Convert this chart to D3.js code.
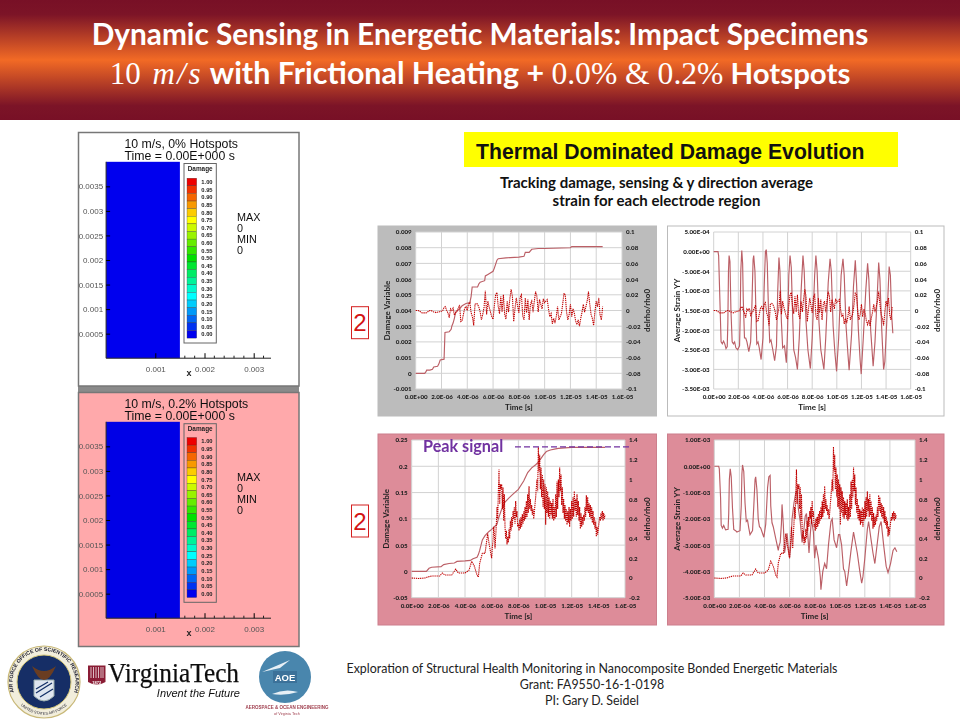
<!DOCTYPE html>
<html><head><meta charset="utf-8">
<script src="https://cdn.jsdelivr.net/npm/d3@7/dist/d3.min.js"></script>
<style>html,body{margin:0;padding:0;background:#fff}svg{display:block}</style>
</head><body><svg id="c" width="960" height="720"></svg>
<script>
// ---------- DATA ----------
const timeTicks=[0,2,4,6,8,10,12,14,16];
const timeLabels=["0.0E+00","2.0E-06","4.0E-06","6.0E-06","8.0E-06","1.0E-05","1.2E-05","1.4E-05","1.6E-05"];
const damageTopTicks=[-0.001,0,0.001,0.002,0.003,0.004,0.005,0.006,0.007,0.008,0.009];
const damageTopLabels=["-0.001","0","0.001","0.002","0.003","0.004","0.005","0.006","0.007","0.008","0.009"];
const strainTopTicks=[-3.5,-3,-2.5,-2,-1.5,-1,-0.5,0,0.5];
const strainTopLabels=["-3.50E-03","-3.00E-03","-2.50E-03","-2.00E-03","-1.50E-03","-1.00E-03","-5.00E-04","0.00E+00","5.00E-04"];
const rhoTopTicks=[-0.1,-0.08,-0.06,-0.04,-0.02,0,0.02,0.04,0.06,0.08,0.1];
const rhoTopLabels=["-0.1","-0.08","-0.06","-0.04","-0.02","0","0.02","0.04","0.06","0.08","0.1"];
const damageBotTicks=[-0.05,0,0.05,0.1,0.15,0.2,0.25];
const damageBotLabels=["-0.05","0","0.05","0.1","0.15","0.2","0.25"];
const strainBotTicks=[-5,-4,-3,-2,-1,0,1];
const strainBotLabels=["-5.00E-03","-4.00E-03","-3.00E-03","-2.00E-03","-1.00E-03","0.00E+00","1.00E-03"];
const rhoBotTicks=[-0.2,0,0.2,0.4,0.6,0.8,1,1.2,1.4];
const rhoBotLabels=["-0.2","0","0.2","0.4","0.6","0.8","1","1.2","1.4"];

// time in microseconds, damage variable
const damageTop=[[0,0],[0.7,0],[0.8,0.0001],[0.85,0.0002],[1.1,0.0002],[1.3,0.00025],[1.4,0.0004],[1.7,0.00045],[1.8,0.0006],[1.9,0.00085],[2.2,0.0009],[2.27,0.0026],[2.6,0.00265],[2.75,0.0028],[2.8,0.003],[2.9,0.0032],[3.0,0.0035],[3.05,0.0037],[3.1,0.0039],[3.4,0.0041],[3.6,0.0043],[3.9,0.00445],[4.2,0.0045],[4.3,0.0049],[4.38,0.0055],[4.8,0.0055],[4.9,0.0057],[5.0,0.0058],[5.35,0.0059],[5.4,0.0062],[5.6,0.0063],[6.0,0.0065],[6.1,0.0067],[6.3,0.0072],[6.4,0.0073],[7,0.00735],[8,0.0074],[8.4,0.00745],[8.5,0.0077],[8.8,0.0077],[9.0,0.0079],[9.5,0.00795],[10,0.00795],[12,0.008],[12.1,0.00807],[14.5,0.00807]];
// delrho/rho0 top row, x 1000, one value each 0.1 microsecond from 0
const rhoTopStep=0.1;
const rhoTopMilli=[0,0,0,-1,-2,-3,-3,-3,-3,-2,-1,0,0,-1,-2,-2,-3,-2,-2,-1,-1,0,4,5,0,-3,-9,2,0,3,-6,-3,-1,3,7,-14,-13,-5,3,5,0,8,10,-3,-8,-19,8,9,8,4,-2,-12,-5,4,25,-5,12,4,-2,-8,-11,6,20,23,5,-4,18,-2,20,-5,-11,12,-2,15,27,18,-14,2,16,6,-3,17,20,-7,-12,16,-3,14,-12,8,12,-2,12,24,18,-2,14,8,2,15,10,12,14,2,-8,-4,-17,-10,-16,-8,5,-12,-8,-4,8,22,20,-2,-12,-5,8,-8,2,-3,-13,-18,-12,-20,-10,-2,8,-2,5,12,24,8,-5,-10,-19,-2,12,5,16,-6,-12,5];
// strain YY, x 1e-3
const strainTop=[[0,0],[.35,0],[.4,-.1],[.5,-1.2],[.6,-2.3],[.7,-2.35],[.8,-2.28],[.9,-2.35],[1,-2.47],[1.1,-2.42],[1.15,-1.8],[1.2,-.5],[1.25,-.1],[1.32,-.25],[1.4,-1.5],[1.5,-2.3],[1.6,-2.35],[1.7,-2.3],[1.8,-2.45],[1.95,-2.5],[2.1,-2.4],[2.15,-1.7],[2.2,-.5],[2.28,.03],[2.35,-.3],[2.4,-1.2],[2.5,-2.2],[2.6,-2.2],[2.7,-2.3],[2.85,-2.55],[3,-2.3],[3.1,-1.4],[3.2,-.2],[3.25,-.1],[3.35,-.5],[3.45,-1.8],[3.5,-2.35],[3.6,-2.3],[3.7,-2.45],[3.85,-2.75],[4,-2.2],[4.1,-.9],[4.2,0],[4.27,.05],[4.35,-.3],[4.45,-1.5],[4.55,-2.3],[4.65,-2.25],[4.8,-2.5],[4.95,-2.78],[5.1,-2.4],[5.2,-1],[5.3,-.15],[5.38,-.5],[5.5,-1.8],[5.6,-2.45],[5.75,-2.4],[5.9,-2.83],[6,-2],[6.1,-.6],[6.2,-.1],[6.3,-.4],[6.4,-1.5],[6.5,-2.5],[6.65,-2.7],[6.8,-3],[6.95,-2.2],[7.1,-1],[7.25,-.1],[7.35,-.5],[7.5,-1.8],[7.65,-2.5],[7.85,-2.98],[8,-2.2],[8.2,-.6],[8.3,-.1],[8.4,-.5],[8.55,-1.8],[8.7,-2.5],[8.95,-3],[9.1,-2.2],[9.3,-.8],[9.45,-.18],[9.55,-.5],[9.7,-1.9],[9.85,-2.6],[9.98,-3.05],[10.15,-2.2],[10.35,-.6],[10.5,-.18],[10.6,-.6],[10.75,-1.9],[10.9,-2.6],[11,-3.02],[11.2,-2.1],[11.35,-.9],[11.5,-.22],[11.6,-.8],[11.75,-2],[11.9,-2.8],[11.98,-3.12],[12.15,-2.2],[12.35,-1],[12.5,-.3],[12.6,-.7],[12.75,-2],[12.95,-2.92],[13.1,-2.3],[13.3,-1],[13.4,-.28],[13.5,-.7],[13.65,-2],[13.8,-3],[13.9,-2.8],[14.1,-1.5],[14.25,-.38],[14.35,-.6],[14.45,-1.6],[14.55,-2.08]];
const damageBot=[[0,0],[1.1,0],[1.3,.006],[1.5,.008],[2.2,.009],[2.4,.013],[2.8,.015],[3.2,.016],[3.4,.019],[4,.02],[4.4,.021],[4.6,.024],[4.9,.027],[5,.032],[5.1,.04],[5.3,.06],[5.5,.068],[5.8,.076],[6,.08],[6.2,.085],[6.4,.09],[6.5,.1],[6.7,.115],[7,.132],[7.3,.14],[7.6,.147],[8,.156],[8.4,.172],[8.7,.188],[9,.197],[9.3,.203],[9.5,.208],[9.7,.215],[9.9,.222],[10.1,.228],[10.4,.231],[10.8,.233],[11,.234],[12,.236],[14.5,.236]];
// delrho/rho0 bottom row: early part (t, value), late part x 100 each 0.05 microsecond from 6
const rhoBotEarly=[[0,0],[.5,-.005],[1,0],[1.2,.01],[1.5,.02],[2.1,.02],[2.3,.05],[2.5,.03],[3,.03],[3.3,.09],[3.5,.05],[4,.05],[4.3,.08],[4.5,.17],[4.7,.12],[4.9,.03],[5,.01],[5.1,.15],[5.3,.25],[5.5,.25],[5.7,.45],[5.8,.35],[6,.2]];
const rhoBotLateStart=6, rhoBotLateStep=0.05;
const rhoBotLateCenti=[20,32,38,52,45,30,42,55,72,60,88,110,75,95,90,95,70,92,58,85,52,40,48,34,42,36,50,40,58,48,62,52,68,60,72,55,78,62,68,52,55,48,60,50,62,52,65,55,68,58,72,60,78,62,85,66,93,70,80,68,74,64,70,60,66,75,82,92,100,88,133,108,125,90,112,82,105,72,100,70,95,54,92,66,88,62,82,60,78,64,76,60,80,58,72,60,85,62,98,70,100,82,112,88,105,74,92,66,80,60,74,58,70,54,68,56,72,52,70,58,78,60,82,62,88,68,80,62,85,64,78,58,72,50,66,52,62,54,64,58,72,62,84,68,82,66,76,62,74,60,72,56,68,54,62,50,58,42,52,44,50,56,62,58,66,60,68,58,66,60,64];
const strainBot=[[0,0],[.35,0],[.4,-.1],[.5,-1.2],[.55,-2.25],[.65,-2.35],[.75,-2.25],[.9,-2.42],[1.1,-2.4],[1.15,-1.8],[1.2,-.5],[1.27,-.1],[1.35,-.4],[1.45,-1.6],[1.55,-2.4],[1.7,-2.45],[1.8,-2.5],[2.05,-2.45],[2.15,-1.5],[2.2,-.3],[2.25,.05],[2.35,-.2],[2.45,-1.4],[2.55,-2.1],[2.65,-2.05],[2.75,-2.35],[2.85,-2.6],[3.05,-2.45],[3.15,-1.5],[3.25,-.5],[3.3,-.4],[3.4,-.9],[3.5,-2],[3.6,-2.3],[3.7,-2.35],[3.95,-2.7],[4.1,-2.2],[4.25,-.8],[4.35,-.4],[4.45,-.35],[4.5,-1.5],[4.6,-2.15],[4.7,-2.3],[4.9,-2.75],[5.1,-3.2],[5.15,-3.05],[5.25,-2.9],[5.35,-2.2],[5.4,-1.45],[5.5,-2.2],[5.6,-3.3],[5.7,-3],[5.8,-2.55],[5.9,-3.1],[6,-3.5],[6.1,-3],[6.2,-2],[6.35,-1.4],[6.5,-1],[6.6,-.95],[6.7,-1.6],[6.85,-2.1],[7,-2.9],[7.1,-2.6],[7.25,-1.9],[7.35,-1.8],[7.45,-2.6],[7.55,-3.3],[7.65,-2.6],[7.75,-2],[7.9,-2.5],[8,-3.5],[8.1,-3],[8.3,-3.5],[8.45,-4.2],[8.5,-4.7],[8.65,-4],[8.8,-3.7],[8.95,-3.9],[9.1,-3],[9.3,-2.1],[9.4,-2],[9.55,-2.8],[9.75,-3.1],[9.9,-2.6],[10,-2.6],[10.15,-3],[10.3,-3.9],[10.4,-4],[10.55,-4.55],[10.7,-4],[10.9,-3.2],[11.1,-2.5],[11.25,-2.9],[11.4,-3.3],[11.6,-4],[11.75,-4.45],[11.85,-4.2],[12,-3.5],[12.2,-2.4],[12.3,-2.1],[12.5,-2.8],[12.65,-3.3],[12.8,-3.7],[13,-2.9],[13.15,-2.3],[13.3,-2.1],[13.5,-3],[13.7,-3.8],[13.85,-4.05],[14.05,-3.7],[14.25,-3.2],[14.4,-3.1],[14.55,-3.25]];
const peakSignal=1.33;

// contour legend
const legendLevels=[1,.95,.9,.85,.8,.75,.7,.65,.6,.55,.5,.45,.4,.35,.3,.25,.2,.15,.1,.05,0];
const legendLabels=["1.00","0.95","0.90","0.85","0.80","0.75","0.70","0.65","0.60","0.55","0.50","0.45","0.40","0.35","0.30","0.25","0.20","0.15","0.10","0.05","0.00"];
const legendStops=[0,.25,.5,.75,1];
const legendColors=["#0000ee","#00ffff","#00e000","#ffff00","#ee0000"];
const fieldYTicks=[.0005,.001,.0015,.002,.0025,.003,.0035];
const fieldYLabels=["0.0005","0.001","0.0015","0.002","0.0025","0.003","0.0035"];
const fieldXTicks=[.001,.002,.003];
const fieldXMinor=[.0016,.0018,.0022,.0024,.0026,.0028,.0032];
const fieldXLabels=["0.001","0.002","0.003"];
const fieldExtent=[.0015,.004];
const fieldTitles=[["10 m/s, 0% Hotspots","Time = 0.00E+000 s"],["10 m/s, 0.2% Hotspots","Time = 0.00E+000 s"]];
const minMaxLabels=["MAX","0","MIN","0"];

// ---------- DRAW ----------
const rhoTop=rhoTopMilli.map((v,i)=>[i*rhoTopStep,v/1000]);
const rhoBot=rhoBotEarly.concat(rhoBotLateCenti.map((v,i)=>[rhoBotLateStart+i*rhoBotLateStep,v/100]));
const svg=d3.select("#c");
const defs=svg.append("defs");
const g0=defs.append("linearGradient").attr("id","band").attr("x1",0).attr("x2",0).attr("y1",0).attr("y2",1);
[[0,"#781026"],[.12,"#7c1427"],[.5,"#f26a25"],[.88,"#7c1427"],[1,"#781026"]].forEach(s=>g0.append("stop").attr("offset",s[0]).attr("stop-color",s[1]));
defs.append("filter").attr("id","soft").attr("x","-5%").attr("y","-5%").attr("width","110%").attr("height","110%")
  .append("feGaussianBlur").attr("stdDeviation",0.35);
svg.append("rect").attr("width",960).attr("height",720).attr("fill","#fff");

// Title band
svg.append("rect").attr("width",960).attr("height",120).attr("fill","url(#band)");
const T="Lato, 'Open Sans', sans-serif", M="'Liberation Serif', serif", A="'Liberation Sans', Arial, sans-serif";
svg.append("text").attr("x",480).attr("y",45).attr("text-anchor","middle").attr("fill","#fff")
  .attr("font-family",T).attr("font-weight",700).attr("font-size",29.8).text("Dynamic Sensing in Energetic Materials: Impact Specimens");
const l2=svg.append("text").attr("x",480).attr("y",84).attr("text-anchor","middle").attr("fill","#fff");
[["10 ",M,400,"normal",31,0,0],["m/s",M,400,"italic",31,4,2.5],[" with Frictional Heating + ",T,700,"normal",30.4,0,0],["0.0% & 0.2%",M,400,"normal",31.6,0,0],[" Hotspots",T,700,"normal",29.4,0,0]]
  .forEach(s=>l2.append("tspan").attr("font-family",s[1]).attr("font-weight",s[2]).attr("font-style",s[3]).attr("font-size",s[4]).attr("dx",s[5]).attr("letter-spacing",s[6]).style("white-space","pre").text(s[0]));

// Header
svg.append("rect").attr("x",464).attr("y",132).attr("width",434).attr("height",35).attr("fill","#ffff00");
svg.append("text").attr("x",476).attr("y",158.5).attr("font-family",A).attr("font-weight",700).attr("font-size",21.2).attr("fill","#111").text("Thermal Dominated Damage Evolution");
["Tracking damage, sensing & y direction average","strain for each electrode region"].forEach((t,i)=>
  svg.append("text").attr("x",656.5).attr("y",188+i*18.3).attr("text-anchor","middle").attr("font-family",T).attr("font-weight",700).attr("font-size",15).attr("fill","#111").text(t));

// Contour panels
const legendColor=d3.scaleLinear().domain(legendStops).range(legendColors);
function field(cfg){
  const g=svg.append("g").attr("filter","url(#soft)");
  g.append("rect").attr("x",78.5).attr("y",cfg.top).attr("width",220.5).attr("height",cfg.h).attr("fill",cfg.bg).attr("stroke","#777").attr("stroke-width",1.5);
  const x=d3.scaleLinear().domain([0,.001]).range([106.1,155.3]);
  const y=d3.scaleLinear().domain([0,.0005]).range([cfg.y0,cfg.y0-24.55]);
  g.append("rect").attr("x",x(0)).attr("y",y(fieldExtent[1])).attr("width",x(fieldExtent[0])-x(0)).attr("height",y(0)-y(fieldExtent[1])).attr("fill",cfg.blue);
  const ax=d3.axisBottom(x).tickValues(fieldXTicks).tickFormat((d,i)=>fieldXLabels[i]).tickSizeInner(-5).tickSizeOuter(0).tickPadding(8);
  const ay=d3.axisLeft(y).tickValues(fieldYTicks).tickFormat((d,i)=>fieldYLabels[i]).tickSizeInner(-4).tickSizeOuter(0).tickPadding(3);
  const gx=g.append("g").attr("transform",`translate(0,${y(0)})`).call(ax);
  gx.select(".domain").attr("d",`M${x(0)},0H271`).attr("stroke","#222");
  gx.selectAll("text").attr("font-family",A).attr("font-size",8).attr("fill","#555");
  gx.selectAll(null).data(fieldXMinor).enter().append("line").attr("x1",d=>x(d)).attr("x2",d=>x(d)).attr("y1",0).attr("y2",-2.5).attr("stroke","#222");
  const gy=g.append("g").attr("transform",`translate(${x(0)},0)`).call(ay);
  gy.select(".domain").attr("d",`M0,${y(fieldExtent[1])}V${y(0)}`).attr("stroke","#222");
  gy.selectAll("text").attr("font-family",A).attr("font-size",8).attr("fill","#555");
  g.append("text").attr("x",189).attr("y",y(0)+18).attr("text-anchor","middle").attr("font-family",A).attr("font-weight",700).attr("font-size",9).attr("fill","#222").text("x");
  cfg.titles.forEach((t,i)=>g.append("text").attr("x",124.5).attr("y",cfg.top+15+i*12.6).attr("font-family",A).attr("font-size",12.3).attr("fill","#111").text(t));
  g.append("rect").attr("x",184).attr("y",cfg.ly0).attr("width",32.3).attr("height",cfg.lh).attr("fill",cfg.legendBg).attr("stroke","#666");
  g.append("text").attr("x",200.2).attr("y",cfg.ly0+7.5).attr("text-anchor","middle").attr("font-family",A).attr("font-weight",700).attr("font-size",6.4).attr("fill","#222").text("Damage");
  const ly=d3.scaleLinear().domain([0,1]).range([cfg.l0,cfg.l1]);
  const step=ly(.95)-ly(1);
  g.selectAll(null).data(legendLevels).enter().append("rect").attr("x",187).attr("width",9.7)
    .attr("y",d=>ly(d)-step/2).attr("height",step).attr("fill",d=>legendColor(d)).attr("stroke","#333").attr("stroke-width",.3);
  g.selectAll(null).data(legendLevels).enter().append("text").attr("x",201.3).attr("y",d=>ly(d)+2.1)
    .attr("font-family",A).attr("font-weight",700).attr("font-size",5.8).attr("fill","#222").text((d,i)=>legendLabels[i]);
  minMaxLabels.forEach((t,i)=>g.append("text").attr("x",237).attr("y",cfg.mm+i*11).attr("font-family",A).attr("font-size",10.8).attr("fill","#111").text(t));
}
svg.append("rect").attr("x",78).attr("y",385).attr("width",221).attr("height",8).attr("fill","#8a8a8a");
field({top:132.5,h:253.5,bg:"#fff",blue:"#0606ee",y0:358.2,titles:fieldTitles[0],ly0:163.5,lh:179.5,legendBg:"#fff",l0:334.3,l1:182,mm:221});
field({top:392.5,h:254,bg:"#ffa9ab",blue:"#0606e6",y0:618.2,titles:fieldTitles[1],ly0:423.7,lh:178.6,legendBg:"#ffa9ab",l0:593.7,l1:441.3,mm:481});

// Line chart panels
function chart(c){
  const g=svg.append("g").attr("filter","url(#soft)");
  g.append("rect").attr("x",c.panel[0]).attr("y",c.panel[1]).attr("width",c.panel[2]-c.panel[0]).attr("height",c.panel[3]-c.panel[1]).attr("fill",c.bg).attr("stroke",c.edge).attr("stroke-width",1);
  g.append("rect").attr("x",c.plot[0]).attr("y",c.plot[1]).attr("width",c.plot[2]-c.plot[0]).attr("height",c.plot[3]-c.plot[1]).attr("fill","#fff");
  const x=d3.scaleLinear().domain([0,16]).range([c.plot[0],c.plot[2]]);
  const yL=d3.scaleLinear().domain(d3.extent(c.lt)).range([c.plot[3],c.plot[1]]);
  const yR=d3.scaleLinear().domain(d3.extent(c.rt)).range([c.plot[3],c.plot[1]]);
  const grid=g.append("g").attr("stroke","#d2d2d2").attr("stroke-width",1);
  grid.selectAll(null).data(timeTicks).enter().append("line").attr("x1",d=>x(d)).attr("x2",d=>x(d)).attr("y1",c.plot[1]).attr("y2",c.plot[3]);
  grid.selectAll(null).data(c.lt).enter().append("line").attr("y1",d=>yL(d)).attr("y2",d=>yL(d)).attr("x1",c.plot[0]).attr("x2",c.plot[2]);
  const style=s=>{s.select(".domain").remove();s.selectAll(".tick line").remove();
    s.selectAll("text").attr("font-family",T).attr("font-weight",900).attr("font-size",6.2).attr("fill","#222");};
  g.append("g").attr("transform",`translate(0,${c.plot[3]})`).call(d3.axisBottom(x).tickValues(timeTicks).tickFormat((d,i)=>timeLabels[i]).tickSize(0).tickPadding(6)).call(style);
  g.append("g").attr("transform",`translate(${c.plot[0]},0)`).call(d3.axisLeft(yL).tickValues(c.lt).tickFormat((d,i)=>c.ll[i]).tickSize(0).tickPadding(4)).call(style);
  g.append("g").attr("transform",`translate(${c.plot[2]},0)`).call(d3.axisRight(yR).tickValues(c.rt).tickFormat((d,i)=>c.rl[i]).tickSize(0).tickPadding(4)).call(style);
  const lab=(t,px,py,rot)=>g.append("text").attr("transform",`translate(${px},${py})`+(rot?" rotate(-90)":"")).attr("text-anchor","middle").attr("font-family",T).attr("font-weight",700).attr("font-size",8).attr("fill","#222").text(t);
  lab("Time [s]",(c.plot[0]+c.plot[2])/2,c.plot[3]+21,false);
  lab(c.leftTitle,c.lx,(c.plot[1]+c.plot[3])/2,true);
  lab("delrho/rho0",c.rx,(c.plot[1]+c.plot[3])/2,true);
  const lineL=d3.line().x(d=>x(d[0])).y(d=>yL(d[1]));
  const lineR=d3.line().x(d=>x(d[0])).y(d=>yR(d[1]));
  g.append("path").attr("d",lineL(c.left)).attr("fill","none").attr("stroke","#bb5f66").attr("stroke-width",1.15);
  g.append("path").attr("d",lineR(c.right)).attr("fill","none").attr("stroke","#c00000").attr("stroke-width",1.1).attr("stroke-dasharray","1.3,0.8");
  if(c.peak){
    g.append("line").attr("x1",515).attr("x2",630).attr("y1",yR(peakSignal)).attr("y2",yR(peakSignal)).attr("stroke","#7030a0").attr("stroke-width",1.4).attr("stroke-dasharray","6,3");
    g.append("text").attr("x",423).attr("y",yR(peakSignal)+5.5).attr("font-family",T).attr("font-weight",700).attr("font-size",16.2).attr("fill","#7030a0").text("Peak signal");
  }
}
chart({panel:[378,226,656.5,416],plot:[415.7,232,622,389],bg:"#bcbcbc",edge:"#bcbcbc",lt:damageTopTicks,ll:damageTopLabels,rt:rhoTopTicks,rl:rhoTopLabels,left:damageTop,right:rhoTop,leftTitle:"Damage Variable",lx:390,rx:650});
chart({panel:[667.5,226,944,416],plot:[713.7,232,910.7,389],bg:"#fff",edge:"#bbbbbb",lt:strainTopTicks,ll:strainTopLabels,rt:rhoTopTicks,rl:rhoTopLabels,left:strainTop,right:rhoTop,leftTitle:"Average Strain YY",lx:680,rx:940});
chart({panel:[378,434,656.5,625],plot:[411.7,440,625,597.7],bg:"#dd8c99",edge:"#cc7f8c",lt:damageBotTicks,ll:damageBotLabels,rt:rhoBotTicks,rl:rhoBotLabels,left:damageBot,right:rhoBot,leftTitle:"Damage Variable",lx:389,rx:650,peak:true});
chart({panel:[667.5,434,944,625],plot:[714.3,440,915,597.7],bg:"#dd8c99",edge:"#cc7f8c",lt:strainBotTicks,ll:strainBotLabels,rt:rhoBotTicks,rl:rhoBotLabels,left:strainBot,right:rhoBot,leftTitle:"Average Strain YY",lx:680,rx:940});

// Red boxed "2"
[306.7,505].forEach(y=>{
  svg.append("rect").attr("x",351.5).attr("y",y).attr("width",17).attr("height",32).attr("fill","#fff").attr("stroke","#d42020").attr("stroke-width",1);
  svg.append("text").attr("x",360).attr("y",y+24.5).attr("text-anchor","middle").attr("font-family",A).attr("font-size",24).attr("fill","#d41414").text("2");
});

// Footer
["Exploration of Structural Health Monitoring in Nanocomposite Bonded Energetic Materials","Grant: FA9550-16-1-0198","PI: Gary D. Seidel"].forEach((t,i)=>
  svg.append("text").attr("x",592).attr("y",673+i*16).attr("text-anchor","middle").attr("font-family",T).attr("font-size",12.4).attr("fill","#222").text(t));

// Logos
const lg=svg.append("g").attr("filter","url(#soft)");
lg.append("circle").attr("cx",44).attr("cy",682).attr("r",36).attr("fill","#f2eedc").attr("stroke","#c8b878").attr("stroke-width",1.2);
lg.append("circle").attr("cx",44).attr("cy",682).attr("r",27).attr("fill","#132f66").attr("stroke","#d8c878").attr("stroke-width",1);
defs.append("path").attr("id","sealArc").attr("d","M14,692A31.5,31.5 0 1 1 74,692");
lg.append("text").attr("font-family",A).attr("font-weight",700).attr("font-size",5.2).attr("fill","#223").append("textPath").attr("href","#sealArc").attr("startOffset","50%").attr("text-anchor","middle").text("AIR FORCE OFFICE OF SCIENTIFIC RESEARCH");
defs.append("path").attr("id","sealArc2").attr("d","M18,702A33,33 0 0 0 70,702");
lg.append("text").attr("font-family",A).attr("font-size",3.8).attr("fill","#223").append("textPath").attr("href","#sealArc2").attr("startOffset","50%").attr("text-anchor","middle").text("UNITED STATES AIR FORCE");
lg.append("path").attr("d","M34,680L54,680L54,696Q44,706 34,696Z").attr("fill","#dfe6f0").attr("stroke","#9aa");
lg.append("path").attr("d","M36,693L52,683M36,689L48,682M40,697L53,689").attr("stroke","#132f66").attr("stroke-width",1.3);
lg.append("path").attr("d","M32,666Q44,676 56,666Q50,680 44,680Q38,680 32,666Z").attr("fill","#6b3d22");
lg.append("path").attr("d","M88,665.5H105.5V682Q96.7,687 88,682Z").attr("fill","#8a1f35");
lg.append("path").attr("d","M91,667V678M93.5,667V678M96,667V678M98.5,667V678M101,667V678M103,667V678").attr("stroke","#fff").attr("stroke-width",.7);
lg.append("text").attr("x",96.7).attr("y",683.6).attr("text-anchor","middle").attr("font-family",A).attr("font-weight",700).attr("font-size",4).attr("fill","#fff").text("1872");
lg.append("text").attr("x",108).attr("y",682).attr("font-family",M).attr("font-size",26.5).attr("fill","#111").attr("stroke","#111").attr("stroke-width",.25).attr("textLength",131).attr("lengthAdjust","spacingAndGlyphs").text("VirginiaTech");
lg.append("text").attr("x",240).attr("y",697).attr("text-anchor","end").attr("font-family",A).attr("font-style","italic").attr("font-size",11).attr("fill","#111").text("Invent the Future");
lg.append("circle").attr("cx",285).attr("cy",677).attr("r",26).attr("fill","#4a86ad");
lg.append("path").attr("d","M262,672L290,660L280,668L262,672Z").attr("fill","#e8f0f6");
lg.append("path").attr("d","M272,694Q285,688 298,692Q285,696 272,694Z").attr("fill","#e8f0f6");
lg.append("rect").attr("x",273).attr("y",671).attr("width",24).attr("height",12).attr("fill","#3a7199");
lg.append("text").attr("x",285).attr("y",681).attr("text-anchor","middle").attr("font-family",A).attr("font-weight",700).attr("font-size",9.5).attr("fill","#fff").text("AOE");
lg.append("text").attr("x",287).attr("y",708.5).attr("text-anchor","middle").attr("font-family",A).attr("font-weight",700).attr("font-size",4.5).attr("fill","#a04050").text("AEROSPACE & OCEAN ENGINEERING");
lg.append("text").attr("x",287).attr("y",714.5).attr("text-anchor","middle").attr("font-family",A).attr("font-size",3.8).attr("fill","#a04050").text("of Virginia Tech");
</script></body></html>
